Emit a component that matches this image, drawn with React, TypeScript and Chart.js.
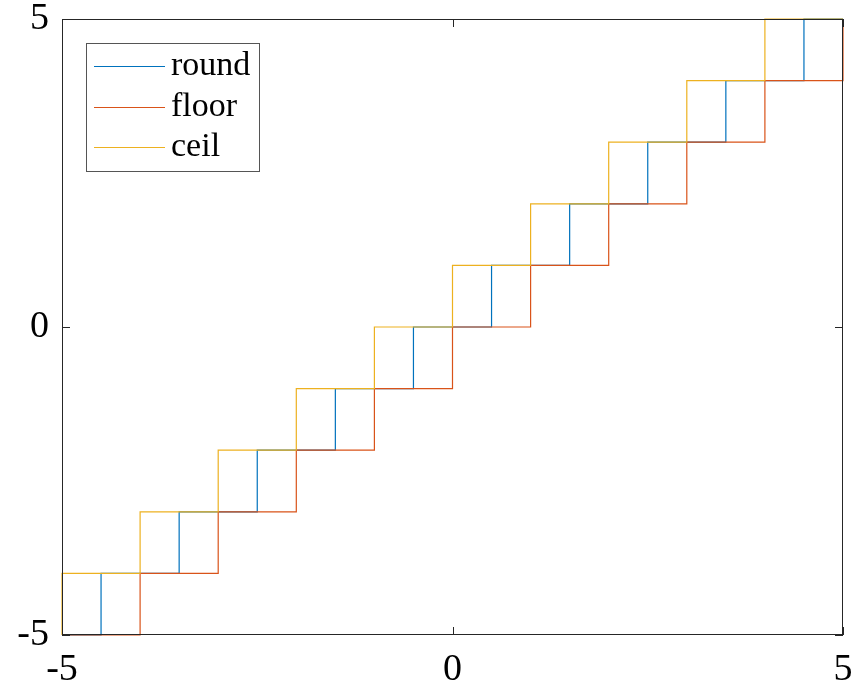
import React, { useEffect, useRef } from "react";
import { Chart, registerables } from "chart.js";

Chart.register(...registerables);

const seriesNames = ["round", "floor", "ceil"];
const seriesColors = ["#0072BD", "#D95319", "#EDB120"];

const roundX = [-5, -4.5, -3.5, -2.5, -1.5, -0.5, 0.5, 1.5, 2.5, 3.5, 4.5, 5];
const roundY = [-5, -4, -3, -2, -1, 0, 1, 2, 3, 4, 5, 5];
const floorX = [-5, -4, -3, -2, -1, 0, 1, 2, 3, 4, 5];
const floorY = [-5, -4, -3, -2, -1, 0, 1, 2, 3, 4, 5];
const ceilX = [-5, -5, -4, -3, -2, -1, 0, 1, 2, 3, 4, 5];
const ceilY = [-5, -4, -3, -2, -1, 0, 1, 2, 3, 4, 5, 5];

const xTicks = [-5, 0, 5];
const yTicks = [-5, 0, 5];

const FONT = "'Liberation Serif', 'Times New Roman', serif";
const AXIS = "#262626";

const toPts = (xs: number[], ys: number[]) => xs.map((x, i) => ({ x, y: ys[i] }));

const boxPlugin = {
  id: "boxAndLegend",
  afterDraw(chart: any) {
    const { ctx, chartArea: a, scales } = chart;
    ctx.save();
    ctx.strokeStyle = AXIS;
    ctx.lineWidth = 1;
    ctx.strokeRect(Math.round(a.left) + 0.5, Math.round(a.top) + 0.5, Math.round(a.right - a.left) - 1, Math.round(a.bottom - a.top) - 1);
    const tl = 8;
    ctx.beginPath();
    xTicks.forEach((v) => {
      const px = Math.round(scales.x.getPixelForValue(v)) + 0.5;
      ctx.moveTo(px, a.bottom);
      ctx.lineTo(px, a.bottom - tl);
      ctx.moveTo(px, a.top);
      ctx.lineTo(px, a.top + tl);
    });
    yTicks.forEach((v) => {
      const py = Math.round(scales.y.getPixelForValue(v)) + 0.5;
      ctx.moveTo(a.left, py);
      ctx.lineTo(a.left + tl, py);
      ctx.moveTo(a.right, py);
      ctx.lineTo(a.right - tl, py);
    });
    ctx.stroke();

    // legend
    const lx = 86, ly = 43, lw = 173, lh = 128;
    ctx.fillStyle = "#ffffff";
    ctx.fillRect(lx, ly, lw, lh);
    ctx.strokeStyle = "#555555";
    ctx.lineWidth = 1;
    ctx.strokeRect(lx + 0.5, ly + 0.5, lw, lh);
    const rows = [66, 107, 147];
    ctx.font = `34px ${FONT}`;
    ctx.textBaseline = "middle";
    ctx.textAlign = "left";
    seriesNames.forEach((name, i) => {
      ctx.strokeStyle = seriesColors[i];
      ctx.lineWidth = 1.2;
      ctx.beginPath();
      ctx.moveTo(94, rows[i] + 0.5);
      ctx.lineTo(165, rows[i] + 0.5);
      ctx.stroke();
      ctx.fillStyle = "#000000";
      ctx.fillText(name, 171, rows[i]);
    });
    ctx.restore();
  },
};

export default function App() {
  const ref = useRef<HTMLCanvasElement | null>(null);
  useEffect(() => {
    document.body.style.margin = "0";
    const xsList = [roundX, floorX, ceilX];
    const ysList = [roundY, floorY, ceilY];
    const chart = new Chart(ref.current as HTMLCanvasElement, {
      type: "line",
      data: {
        datasets: seriesNames.map((name, i) => ({
          label: name,
          data: toPts(xsList[i], ysList[i]),
          borderColor: seriesColors[i],
          backgroundColor: seriesColors[i],
          borderWidth: 1.2,
          pointRadius: 0,
          stepped: "before" as const,
          fill: false,
          clip: 3,
          order: 2 - i,
        })),
      },
      options: {
        animation: false,
        responsive: false,
        maintainAspectRatio: false,
        layout: { padding: { top: 19, right: 16, left: 0, bottom: 0 } },
        plugins: { legend: { display: false }, tooltip: { enabled: false } },
        scales: {
          x: {
            type: "linear",
            min: -5,
            max: 5,
            afterBuildTicks: (s: any) => {
              s.ticks = xTicks.map((v) => ({ value: v }));
            },
            afterFit: (s: any) => {
              s.height = 50;
              s.paddingLeft = 0;
              s.paddingRight = 0;
            },
            grid: { display: false, drawTicks: false },
            border: { display: false },
            ticks: {
              font: { family: FONT, size: 38 },
              color: "#000000",
              padding: 12,
              maxRotation: 0,
              autoSkip: false,
            },
          },
          y: {
            type: "linear",
            min: -5,
            max: 5,
            afterBuildTicks: (s: any) => {
              s.ticks = yTicks.map((v) => ({ value: v }));
            },
            afterFit: (s: any) => {
              s.width = 62;
              s.paddingTop = 0;
              s.paddingBottom = 0;
            },
            grid: { display: false, drawTicks: false },
            border: { display: false },
            ticks: {
              font: { family: FONT, size: 38 },
              color: "#000000",
              padding: 13,
              autoSkip: false,
            },
          },
        },
      },
      plugins: [boxPlugin],
    });
    return () => chart.destroy();
  }, []);
  return <canvas ref={ref} width={859} height={685} style={{ display: "block" }} />;
}
